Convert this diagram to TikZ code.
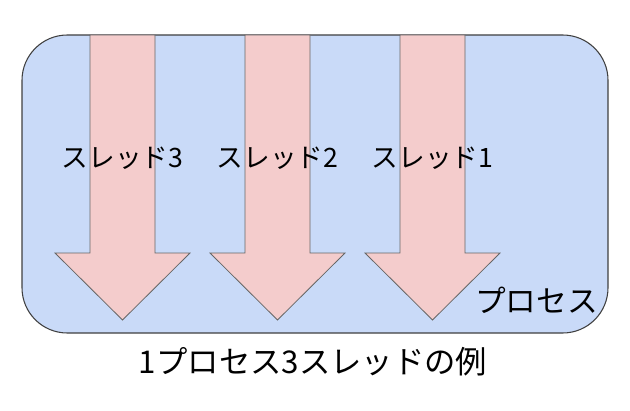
\documentclass[tikz,border=0pt]{standalone}
\usepackage{fontspec}
\setmainfont{Noto Sans CJK JP}
\usepackage{xcolor}
\definecolor{procblue}{HTML}{C9DAF8}
\definecolor{threadpink}{HTML}{F4CCCC}
\tikzset{
  proc/.style={draw=black!75, fill=procblue, rounded corners=34pt, line width=0.8pt},
  thread/.style={draw=black!60, fill=threadpink, line width=0.6pt},
  label/.style={font=\fontsize{20}{24}\selectfont}
}
\begin{document}
\begin{tikzpicture}[x=0.75pt,y=-0.75pt]
    \useasboundingbox (0,0) rectangle (630,410);
    \draw[proc] (22,35) rectangle (608,333);

    \foreach \xl/\n in {90/3, 245/2, 400/1} {
        \draw[thread] (\xl,35) -- (\xl+65,35) -- (\xl+65,253) -- (\xl+100,253)
            -- (\xl+32.5,320) -- (\xl-35,253) -- (\xl,253) -- cycle;
        \node[label] (t\n) at (\xl+32.5,158) {スレッド\n};
    }

    \node[font=\fontsize{23}{27}\selectfont, anchor=east, inner sep=0pt] (proc) at (598,300) {プロセス};
    \node[font=\fontsize{23.5}{28}\selectfont] (cap) at (313,362) {1プロセス3スレッドの例};
\end{tikzpicture}
\end{document}
